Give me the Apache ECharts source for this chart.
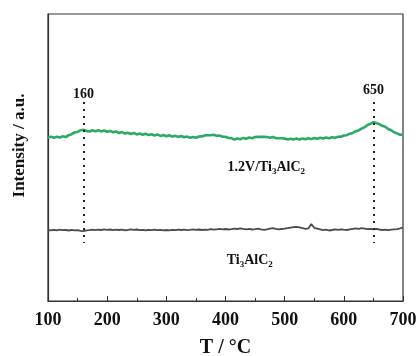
<!DOCTYPE html>
<html>
<head>
<meta charset="utf-8">
<script src="https://cdn.jsdelivr.net/npm/echarts@6/dist/echarts.min.js"></script>
<style>html,body{margin:0;padding:0;background:#fff}#c{width:416px;height:356px}</style>
</head>
<body>
<div id="c"></div>
<script>
var temps = [100,105,110,115,120,125,130,135,140,145,150,155,160,165,170,175,180,185,190,195,
200,205,210,215,220,225,230,235,240,245,250,255,260,265,270,275,280,285,290,295,
300,305,310,315,320,325,330,335,340,345,350,355,360,365,370,375,380,385,390,395,
400,405,410,415,420,425,430,435,440,445,450,455,460,465,470,475,480,485,490,495,
500,505,510,515,520,525,530,535,540,545,550,555,560,565,570,575,580,585,590,595,
600,605,610,615,620,625,630,635,640,645,650,655,660,665,670,675,680,685,690,695,700];
var greenVals = [163.3,164.4,163.2,164.2,163.4,164.7,163.9,165.8,166.8,168.5,169.0,170.8,171.2,170.0,169.4,170.7,169.8,170.8,169.6,170.5,
169.2,170.1,168.7,169.5,168.0,168.9,167.4,168.2,167.0,168.1,166.6,167.5,166.2,167.2,165.9,166.7,165.4,166.4,165.1,166.0,
164.8,165.7,164.4,165.3,164.1,165.0,163.7,164.4,163.2,164.1,163.3,164.5,164.6,165.6,165.7,165.8,166.3,165.3,165.4,164.3,
164.2,163.0,162.9,161.4,162.6,161.8,163.1,162.2,163.5,162.8,164.0,164.1,164.1,164.2,163.9,163.2,164.1,162.9,162.8,162.7,
162.4,161.4,162.3,161.5,162.6,161.6,162.5,161.7,162.7,161.9,163.0,162.2,163.2,162.4,163.4,162.8,163.7,163.2,164.2,164.2,
165.5,165.8,167.3,168.0,169.8,170.6,172.4,173.7,176.0,177.2,178.8,178.0,176.8,175.2,174.2,172.0,170.8,168.7,167.6,166.3,166.4];
var blackVals = [71.0,70.6,71.2,70.7,71.3,70.8,71.0,70.5,71.1,70.6,70.9,70.2,69.8,70.6,70.9,71.4,70.8,71.3,71.0,71.6,
71.1,71.5,70.9,71.4,71.0,71.3,70.7,71.2,71.6,71.1,71.5,70.9,71.2,70.6,71.1,70.8,71.3,70.9,71.2,70.7,
71.0,70.6,71.1,70.8,71.4,71.0,71.3,70.9,71.2,71.6,71.1,71.5,71.0,71.4,71.2,71.8,71.3,71.7,72.1,71.6,
72.0,71.5,71.8,72.3,72.0,72.6,72.1,71.7,72.2,71.5,71.8,72.3,71.6,71.2,71.7,72.4,72.9,72.1,71.6,72.0,
72.4,72.9,73.4,73.9,74.2,73.6,72.8,72.2,72.6,77.0,73.2,72.4,71.6,70.8,71.3,70.5,71.0,71.6,71.2,71.7,
71.3,71.0,71.6,72.1,72.6,72.2,72.8,72.3,71.8,72.2,71.7,72.1,71.5,71.0,71.4,70.8,71.3,71.6,71.9,72.6,73.5];
var xTicks = [100,200,300,400,500,600,700];
var peakTemps = [160,650];
var peakLabels = ['160','650'];

var font = '"Liberation Serif","Times New Roman",serif';
function pairs(xs, ys){ return xs.map(function(x,i){return [x, ys[i]];}); }
var rich = {
  a:{fontFamily:font,fontWeight:'bold',fontSize:14,color:'#111',lineHeight:18,verticalAlign:'middle'},
  s:{fontFamily:font,fontWeight:'bold',fontSize:9,color:'#111',lineHeight:18,verticalAlign:'bottom',padding:[6,0,0,0]}
};
var chart = echarts.init(document.getElementById('c'), null, {renderer:'canvas'});
chart.setOption({
  animation:false,
  backgroundColor:'#fff',
  grid:{left:48,right:13,top:14,bottom:55,outerBoundsMode:'none',containLabel:false,show:true,borderColor:'#333',borderWidth:1.2,backgroundColor:'transparent'},
  xAxis:{type:'value',min:100,max:700,interval:100,
    axisLine:{lineStyle:{color:'#333',width:1.2}},
    axisTick:{inside:true,length:5,lineStyle:{color:'#333'}},
    minorTick:{show:true,splitNumber:2,length:3,lineStyle:{color:'#333'}},
    splitLine:{show:false},
    axisLabel:{fontFamily:font,fontWeight:'bold',fontSize:18,color:'#111',margin:10},
    name:'T / °C',nameLocation:'middle',nameGap:37,
    nameTextStyle:{fontFamily:font,fontWeight:'bold',fontSize:20,color:'#111'}},
  yAxis:{type:'value',min:0,max:287,
    axisLine:{show:true,lineStyle:{color:'#333',width:1.2}},
    axisTick:{show:false},axisLabel:{show:false},splitLine:{show:false},
    name:'Intensity / a.u.',nameLocation:'middle',nameGap:20,
    nameTextStyle:{fontFamily:font,fontWeight:'bold',fontSize:17,color:'#111',padding:[0,0,0,24]}},
  series:[
    {type:'line',data:pairs(temps,greenVals),showSymbol:false,symbol:'none',
     lineStyle:{color:'#2fa865',width:2.6},z:3,
     markLine:{silent:true,symbol:['none','none'],label:{show:false},
       lineStyle:{type:[2,5],color:'#222',width:2},
       data:peakTemps.map(function(t){return [{coord:[t,199]},{coord:[t,58]}];})},
     markPoint:{silent:true,symbol:'circle',symbolSize:0,
       label:{show:true,position:'inside',fontFamily:font,fontWeight:'bold',fontSize:14,color:'#111'},
       data:[
         {coord:[peakTemps[0],207],value:peakLabels[0],label:{formatter:peakLabels[0]}},
         {coord:[peakTemps[1],211],value:peakLabels[1],label:{formatter:peakLabels[1]}},
         {coord:[469,134],value:0,label:{formatter:'{a|1.2V/Ti}{s|3}{a|AlC}{s|2}',rich:rich}}
       ]}},
    {type:'line',data:pairs(temps,blackVals),showSymbol:false,symbol:'none',
     lineStyle:{color:'#4a4a4a',width:1.8},z:2,
     markPoint:{silent:true,symbol:'circle',symbolSize:0,
       label:{show:true,position:'inside'},
       data:[{coord:[441,41],value:0,label:{formatter:'{a|Ti}{s|3}{a|AlC}{s|2}',rich:rich}}]}}
  ]
});
</script>
</body>
</html>
